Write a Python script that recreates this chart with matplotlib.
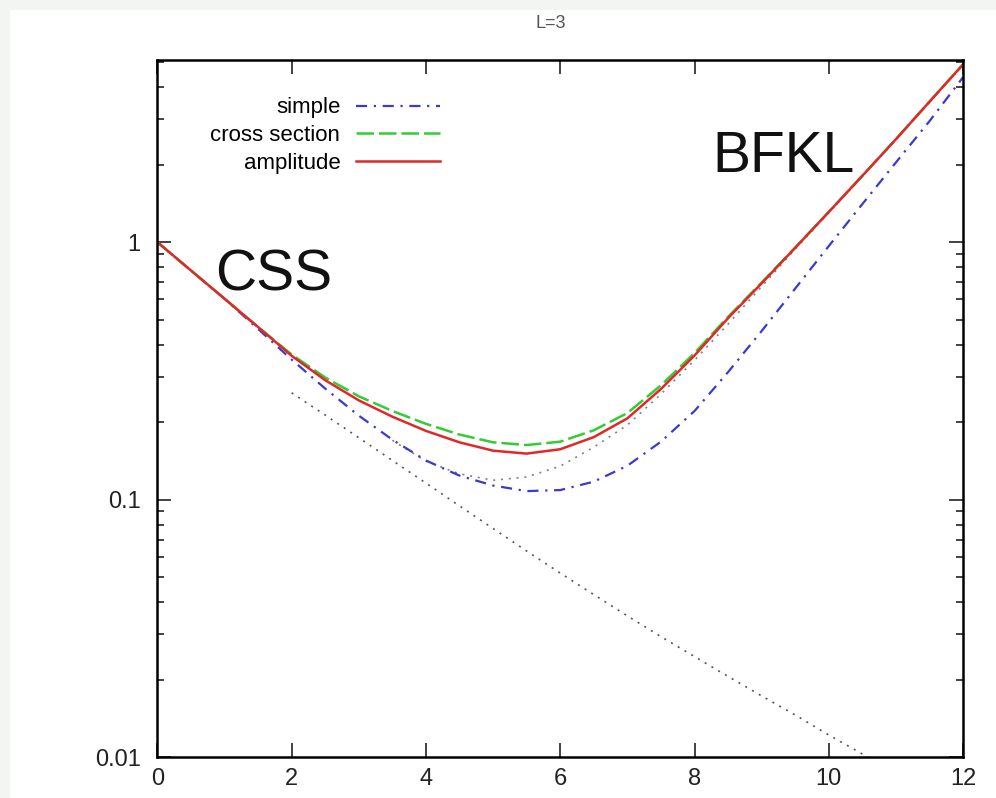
import numpy as np
import matplotlib
matplotlib.use("Agg")
import matplotlib.pyplot as plt
from matplotlib.patches import Rectangle
from matplotlib.ticker import LogLocator, FixedLocator, NullFormatter

plt.rcParams["font.family"] = ["Liberation Sans", "DejaVu Sans"]
plt.rcParams["lines.solid_joinstyle"] = "round"
plt.rcParams["lines.dash_joinstyle"] = "round"

# values (log y axis)
x_main = [0, 0.5, 1, 1.5, 2, 2.5, 3, 3.5, 4, 4.5, 5, 5.5, 6, 6.5, 7, 7.5,
          8, 8.5, 9, 9.5, 10, 10.5, 11, 11.5, 12]
simple = [1.0, 0.776, 0.603, 0.46, 0.35, 0.27, 0.212, 0.171, 0.142, 0.124,
          0.1135, 0.108, 0.109, 0.1175, 0.1355, 0.168, 0.221, 0.313, 0.452,
          0.661, 0.966, 1.406, 2.04, 2.95, 4.37]
cross_section = [1.0, 0.776, 0.603, 0.468, 0.366, 0.298, 0.252, 0.221, 0.197,
                 0.179, 0.167, 0.163, 0.168, 0.186, 0.217, 0.278, 0.371,
                 0.513, 0.697, 0.953, 1.31, 1.81, 2.51, 3.51, 4.90]
amplitude = [1.0, 0.776, 0.603, 0.468, 0.362, 0.291, 0.243, 0.210, 0.185,
             0.167, 0.155, 0.151, 0.157, 0.175, 0.207, 0.269, 0.363, 0.507,
             0.692, 0.951, 1.31, 1.81, 2.51, 3.51, 4.90]

# dotted asymptotic curves (no legend entry)
x_css = [2, 2.5, 3, 3.5, 4, 4.5, 5, 5.5, 6, 6.5, 7, 7.5, 8, 8.5, 9, 9.5,
         10, 10.5, 11]
css_asym = [0.26, 0.213, 0.174, 0.142, 0.116, 0.0946, 0.0773, 0.0632, 0.0519,
            0.0428, 0.0354, 0.0294, 0.0246, 0.0206, 0.0173, 0.0146, 0.0122,
            0.0103, 0.0087]

x_bfkl = [3.5, 4, 4.5, 5, 5.5, 6, 6.5, 7, 7.5, 8, 8.5, 9, 9.5, 10, 10.5,
          11, 11.5, 12]
bfkl_asym = [0.170, 0.141, 0.126, 0.119, 0.1225, 0.135, 0.160, 0.195, 0.257,
             0.348, 0.481, 0.673, 0.94, 1.30, 1.80, 2.50, 3.50, 4.87]

fig = plt.figure(figsize=(9.96, 7.98), dpi=100)
fig.patch.set_facecolor("#f3f5f3")
# white page with a thin grey margin on the left and top, as in the scan
fig.add_artist(Rectangle((0.010, 0.0), 0.99, 0.988, transform=fig.transFigure,
                         facecolor="white", edgecolor="none", zorder=-10))
ax = fig.add_axes([0.158, 0.051, 0.809, 0.874])
ax.set_zorder(1)

ax.plot(x_css, css_asym, color="#555555", lw=1.2, ls=(0, (1.2, 3.5)))
ax.plot(x_bfkl, bfkl_asym, color="#808080", lw=1.2, ls=(0, (1.2, 3.5)))
ax.plot(x_main, simple, color="#3a3acc", lw=1.6, ls=(0, (5, 3, 1, 3)),
        label="simple")
ax.plot(x_main, cross_section, color="#33cc33", lw=1.8, ls=(0, (7, 2)),
        label="cross section")
ax.plot(x_main, amplitude, color="#e02828", lw=1.8, label="amplitude")

ax.set_yscale("log")
ax.set_xlim(0, 12)
ax.set_ylim(0.01, 5.1)

ax.xaxis.set_major_locator(FixedLocator([0, 2, 4, 6, 8, 10, 12]))
ax.yaxis.set_major_locator(FixedLocator([0.01, 0.1, 1]))
ax.yaxis.set_minor_locator(LogLocator(base=10, subs=np.arange(2, 10)))
ax.yaxis.set_minor_formatter(NullFormatter())
ax.set_yticklabels(["0.01", "0.1", "1"])

ax.tick_params(which="both", direction="in", top=True, right=True,
               labelsize=17, colors="#222222", width=1.2)
ax.tick_params(which="major", length=10)
ax.tick_params(axis="y", which="major", pad=12)
ax.tick_params(axis="x", which="major", pad=8)
ax.tick_params(which="minor", length=5)
for s in ax.spines.values():
    s.set_linewidth(1.8)

ax.text(0.072, 0.670, "CSS", transform=ax.transAxes, fontsize=41,
        va="baseline", color="#111111")
ax.text(0.689, 0.839, "BFKL", transform=ax.transAxes, fontsize=41,
        va="baseline", color="#111111")

ax.legend(loc="upper left", bbox_to_anchor=(0.041, 0.975), frameon=False,
          markerfirst=False, fontsize=16, handlelength=3.8,
          labelspacing=0.3, handletextpad=0.7)

fig.text(0.553, 0.970, "L=3", ha="center", va="center", fontsize=13,
         color="#555555")

fig.savefig("out.png", dpi=100, facecolor=fig.get_facecolor())
